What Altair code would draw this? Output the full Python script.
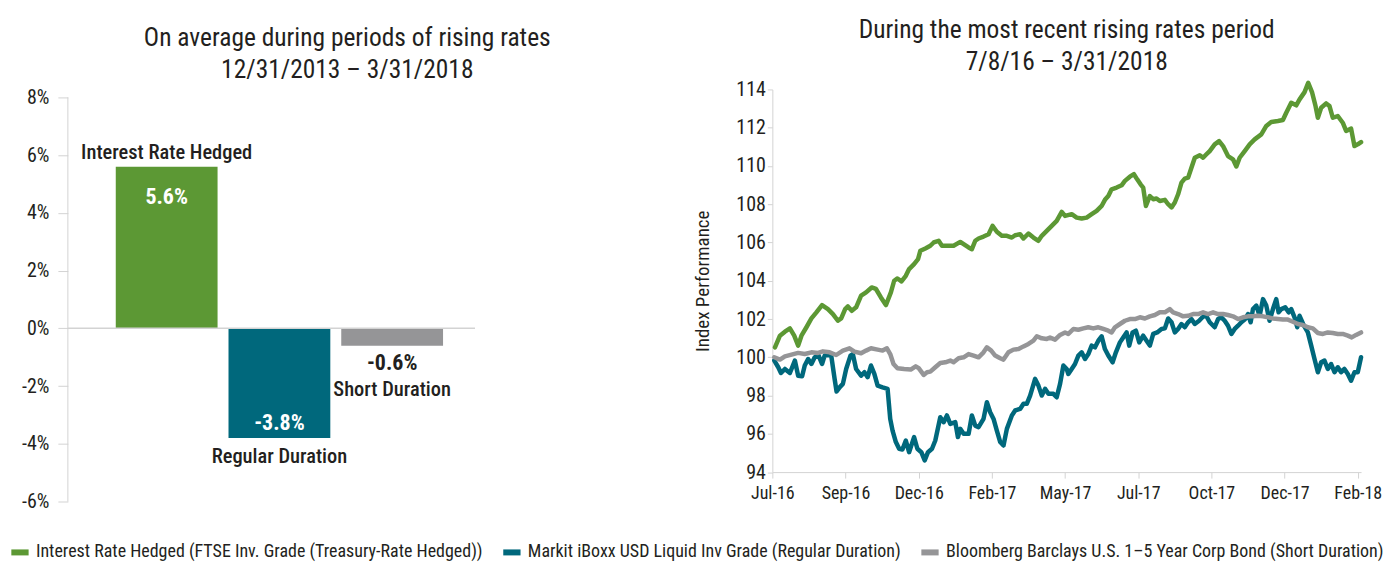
import json
import altair as alt
import pandas as pd

FONT = "'Roboto Condensed', 'Liberation Sans Narrow', 'DejaVu Sans Condensed', 'Arial Narrow', sans-serif"
TEXT = "#231f20"
AXIS_GRAY = "#d3d3d3"

# ---------------- left panel data ----------------
BAR_CATS = ["Interest Rate Hedged", "Regular Duration", "Short Duration"]
BAR_VALUES = [5.6, -3.8, -0.6]
BAR_LABELS = ["5.6%", "-3.8%", "-0.6%"]
PCT_TICKS = [-6, -4, -2, 0, 2, 4, 6, 8]
COLORS = ["#5c9834", "#00687c", "#959597"]

# ---------------- right panel data ----------------
SERIES = [
    "Interest Rate Hedged (FTSE Inv. Grade (Treasury-Rate Hedged))",
    "Markit iBoxx USD Liquid Inv Grade (Regular Duration)",
    "Bloomberg Barclays U.S. 1\u20135 Year Corp Bond (Short Duration)",
]
X_TICK_LABELS = ["Jul-16", "Sep-16", "Dec-16", "Feb-17", "May-17", "Jul-17", "Oct-17", "Dec-17", "Feb-18"]
INDEX_TICKS = [94, 96, 98, 100, 102, 104, 106, 108, 110, 112, 114]

HEDGED_T = [0.036, 0.104, 0.172, 0.240, 0.299, 0.353, 0.398, 0.466, 0.534, 0.602, 0.679, 0.760, 0.828, 0.896,
            0.941, 0.995, 1.032, 1.086, 1.145, 1.213, 1.281, 1.357, 1.416, 1.484, 1.552, 1.620, 1.665, 1.710,
            1.765, 1.824, 1.869, 1.937, 1.991, 2.023, 2.091, 2.159, 2.205, 2.273, 2.318, 2.386, 2.477, 2.568,
            2.614, 2.682, 2.727, 2.773, 2.818, 2.886, 2.955, 3.009, 3.068, 3.136, 3.205, 3.273, 3.318, 3.386,
            3.432, 3.500, 3.568, 3.636, 3.682, 3.750, 3.818, 3.886, 3.955, 4.000, 4.091, 4.159, 4.227, 4.295,
            4.364, 4.432, 4.500, 4.545, 4.591, 4.636, 4.705, 4.773, 4.818, 4.886, 4.941, 4.986, 5.032, 5.068,
            5.105, 5.159, 5.205, 5.250, 5.295, 5.364, 5.409, 5.455, 5.500, 5.545, 5.591, 5.636, 5.682, 5.727,
            5.773, 5.841, 5.886, 5.932, 5.977, 6.045, 6.105, 6.159, 6.227, 6.295, 6.341, 6.386, 6.455, 6.523,
            6.591, 6.682, 6.750, 6.818, 6.909, 6.977, 7.023, 7.091, 7.159, 7.205, 7.273, 7.323, 7.377, 7.423,
            7.455, 7.500, 7.568, 7.614, 7.659, 7.727, 7.795, 7.841, 7.909, 7.955, 8.000, 8.045]
HEDGED_V = [100.52, 101.13, 101.34, 101.51, 101.13, 100.61, 101.13, 101.57, 102.03, 102.35, 102.73, 102.52,
            102.26, 101.91, 102.03, 102.52, 102.66, 102.43, 102.61, 103.22, 103.39, 103.65, 103.57, 103.13,
            102.73, 103.39, 104.00, 104.12, 103.97, 104.26, 104.61, 104.87, 105.13, 105.57, 105.69, 105.83,
            106.00, 106.09, 105.83, 105.83, 105.83, 106.03, 105.91, 105.74, 105.65, 106.09, 106.21, 106.31,
            106.43, 106.87, 106.56, 106.35, 106.35, 106.26, 106.38, 106.43, 106.21, 106.47, 106.26, 106.09,
            106.35, 106.61, 106.87, 107.13, 107.60, 107.39, 107.48, 107.30, 107.25, 107.30, 107.48, 107.65,
            107.91, 108.23, 108.43, 108.78, 108.87, 108.99, 109.22, 109.44, 109.57, 109.30, 109.04, 108.87,
            107.91, 108.43, 108.26, 108.30, 108.17, 108.23, 108.00, 107.83, 108.09, 108.52, 109.13, 109.34,
            109.39, 109.91, 110.43, 110.56, 110.43, 110.61, 110.78, 111.13, 111.30, 111.04, 110.52, 110.35,
            109.97, 110.43, 110.78, 111.13, 111.39, 111.65, 112.09, 112.30, 112.35, 112.40, 112.78, 113.30,
            113.17, 113.48, 113.86, 114.35, 113.83, 113.13, 112.52, 113.04, 113.27, 113.13, 112.52, 112.61,
            112.26, 111.83, 111.95, 111.04, 111.13, 111.25]

REGULAR_T = [0.027, 0.081, 0.118, 0.172, 0.240, 0.308, 0.353, 0.407, 0.443, 0.489, 0.534, 0.579, 0.633, 0.679,
             0.715, 0.769, 0.805, 0.851, 0.878, 0.919, 0.964, 1.009, 1.068, 1.100, 1.145, 1.213, 1.258, 1.303,
             1.348, 1.394, 1.439, 1.507, 1.575, 1.611, 1.643, 1.688, 1.733, 1.778, 1.824, 1.869, 1.937, 1.982,
             2.036, 2.082, 2.127, 2.182, 2.227, 2.295, 2.341, 2.386, 2.432, 2.500, 2.536, 2.568, 2.614, 2.682,
             2.727, 2.773, 2.818, 2.886, 2.932, 2.977, 3.023, 3.068, 3.114, 3.159, 3.205, 3.273, 3.318, 3.386,
             3.432, 3.477, 3.523, 3.591, 3.636, 3.682, 3.727, 3.773, 3.841, 3.886, 3.932, 3.977, 4.023, 4.045,
             4.091, 4.136, 4.182, 4.227, 4.273, 4.318, 4.364, 4.409, 4.455, 4.500, 4.545, 4.591, 4.650, 4.695,
             4.750, 4.795, 4.841, 4.877, 4.923, 4.968, 5.014, 5.068, 5.114, 5.159, 5.205, 5.259, 5.318, 5.364,
             5.409, 5.455, 5.500, 5.545, 5.591, 5.636, 5.682, 5.727, 5.773, 5.832, 5.877, 5.923, 5.977, 6.045,
             6.091, 6.136, 6.182, 6.227, 6.273, 6.318, 6.364, 6.409, 6.455, 6.500, 6.536, 6.568, 6.614, 6.659,
             6.705, 6.750, 6.795, 6.841, 6.886, 6.918, 6.955, 7.009, 7.055, 7.091, 7.136, 7.173, 7.205, 7.264,
             7.318, 7.364, 7.409, 7.455, 7.500, 7.545, 7.591, 7.636, 7.682, 7.727, 7.773, 7.818, 7.864, 7.909,
             7.955, 8.000, 8.045]
REGULAR_V = [99.83, 99.48, 99.18, 99.39, 99.18, 99.83, 99.04, 99.01, 99.57, 99.91, 99.65, 100.00, 100.09, 99.65,
             100.09, 100.12, 100.09, 98.87, 98.21, 98.43, 98.61, 99.39, 100.09, 100.17, 99.39, 99.04, 99.22, 98.96,
             99.57, 99.13, 98.52, 98.43, 98.35, 96.78, 96.17, 95.57, 95.22, 95.18, 95.65, 95.04, 95.83, 95.22,
             95.04, 94.61, 95.04, 95.22, 95.65, 96.87, 96.61, 96.96, 96.52, 96.61, 95.83, 96.26, 96.00, 96.00,
             96.96, 96.43, 96.35, 96.78, 97.65, 97.13, 96.78, 96.17, 95.57, 95.39, 96.26, 96.96, 97.22, 97.30,
             97.57, 97.57, 98.00, 98.87, 98.52, 98.00, 98.35, 98.09, 98.09, 97.91, 98.61, 99.57, 99.39, 99.13,
             99.39, 99.65, 100.09, 100.26, 99.91, 100.17, 100.61, 100.52, 100.87, 101.10, 100.43, 100.09, 99.74,
             100.26, 100.78, 101.04, 101.30, 100.61, 101.30, 101.39, 100.78, 101.13, 100.87, 100.61, 101.22,
             101.30, 101.48, 101.51, 102.03, 101.83, 101.30, 101.48, 101.74, 101.57, 101.83, 102.00, 101.74,
             101.91, 102.09, 102.21, 101.83, 101.57, 102.00, 102.09, 101.91, 101.65, 101.22, 101.48, 101.65,
             101.83, 101.97, 102.26, 101.83, 102.52, 102.70, 102.17, 103.04, 102.70, 101.91, 102.52, 103.04,
             102.35, 102.52, 102.61, 102.35, 102.52, 102.09, 101.57, 102.17, 101.65, 101.30, 100.61, 99.91,
             99.22, 99.74, 99.83, 99.39, 99.65, 99.22, 99.48, 99.22, 99.39, 99.13, 98.78, 99.22, 99.22, 100.00]

SHORT_T = [0.027, 0.104, 0.172, 0.262, 0.353, 0.443, 0.534, 0.624, 0.692, 0.783, 0.873, 0.964, 1.054, 1.122,
           1.213, 1.281, 1.348, 1.439, 1.507, 1.566, 1.611, 1.656, 1.710, 1.801, 1.891, 1.959, 2.000, 2.068,
           2.114, 2.159, 2.227, 2.295, 2.364, 2.432, 2.477, 2.545, 2.614, 2.682, 2.750, 2.818, 2.886, 2.932,
           2.991, 3.045, 3.114, 3.159, 3.227, 3.295, 3.364, 3.432, 3.500, 3.568, 3.614, 3.682, 3.750, 3.795,
           3.864, 3.932, 4.000, 4.045, 4.114, 4.182, 4.250, 4.318, 4.386, 4.455, 4.523, 4.591, 4.636, 4.682,
           4.750, 4.818, 4.886, 4.955, 5.023, 5.091, 5.159, 5.227, 5.295, 5.364, 5.432, 5.477, 5.545, 5.614,
           5.682, 5.750, 5.818, 5.886, 5.955, 6.023, 6.091, 6.159, 6.227, 6.295, 6.364, 6.432, 6.500, 6.568,
           6.636, 6.705, 6.773, 6.841, 6.909, 6.977, 7.045, 7.114, 7.182, 7.250, 7.318, 7.386, 7.455, 7.523,
           7.591, 7.659, 7.727, 7.795, 7.864, 7.918, 7.977, 8.045]
SHORT_V = [100.00, 99.88, 100.05, 100.14, 100.23, 100.17, 100.26, 100.23, 100.31, 100.26, 100.12, 100.35, 100.47,
           100.30, 100.21, 100.35, 100.47, 100.40, 100.35, 100.47, 100.17, 99.65, 99.43, 99.39, 99.36, 99.53,
           99.43, 99.08, 99.22, 99.25, 99.48, 99.70, 99.74, 99.83, 99.74, 99.95, 100.00, 100.17, 100.09, 100.00,
           100.26, 100.52, 100.35, 100.09, 99.95, 99.88, 100.26, 100.40, 100.43, 100.57, 100.70, 100.87, 101.10,
           100.99, 100.96, 101.03, 100.92, 101.17, 101.30, 101.22, 101.48, 101.44, 101.51, 101.57, 101.51,
           101.57, 101.48, 101.39, 101.30, 101.57, 101.74, 101.91, 102.00, 102.00, 102.09, 102.03, 102.14,
           102.21, 102.35, 102.35, 102.52, 102.35, 102.26, 102.14, 102.17, 102.26, 102.26, 102.35, 102.26,
           102.35, 102.26, 102.26, 102.21, 102.14, 102.00, 102.09, 102.14, 102.14, 102.17, 102.14, 102.09,
           102.03, 102.00, 101.97, 101.97, 101.86, 101.74, 101.69, 101.57, 101.51, 101.27, 101.22, 101.30,
           101.27, 101.22, 101.22, 101.13, 101.04, 101.17, 101.30]

# ---------------- left panel ----------------
LW, LH = 408, 413
bars_df = pd.DataFrame({"cat": BAR_CATS, "value": BAR_VALUES, "label": BAR_LABELS})
pct_scale = alt.Scale(domain=[-6, 8.277], nice=False)
x_band = alt.X("cat:N", sort=BAR_CATS, axis=None,
               scale=alt.Scale(paddingInner=0.097, paddingOuter=0.354, align=0.6))

pct_axis = alt.Axis(values=PCT_TICKS, labelExpr="datum.value + '%'", domain=False, grid=False,
                    tickSize=10, tickColor=AXIS_GRAY, labelPadding=9, labelFontSize=20,
                    labelColor=TEXT, title=None)

axis_line = alt.Chart(pd.DataFrame({"lo": [min(PCT_TICKS)], "hi": [max(PCT_TICKS)]})).mark_rule(
    color=AXIS_GRAY, strokeWidth=1).encode(
    x=alt.value(0), y=alt.Y("lo:Q", scale=pct_scale, axis=pct_axis), y2="hi:Q")

zero_line = alt.Chart(pd.DataFrame({"z": [0]})).mark_rule(color=AXIS_GRAY, strokeWidth=1.5).encode(
    y=alt.Y("z:Q", scale=pct_scale), x=alt.value(0), x2=alt.value(LW))

bars = alt.Chart(bars_df).mark_bar().encode(
    x=x_band,
    y=alt.Y("value:Q", scale=pct_scale),
    color=alt.Color("cat:N", scale=alt.Scale(domain=BAR_CATS, range=COLORS), legend=None),
)


def bar_text(idx, field, dy, color, weight, size):
    return alt.Chart(bars_df).transform_filter(
        alt.datum.cat == BAR_CATS[idx]).mark_text(
        dy=dy, baseline="middle", align="center", color=color, fontWeight=weight, fontSize=size).encode(
        x=x_band, y=alt.Y("value:Q", scale=pct_scale), text=f"{field}:N")


TITLE_STYLE = dict(fontSize=25.5, fontWeight="normal", color=TEXT, lineHeight=32, offset=4,
                   anchor="middle", frame="group")

left = alt.layer(
    axis_line, bars, zero_line,
    bar_text(0, "cat", -14, TEXT, 500, 20.5),
    bar_text(0, "label", 30, "white", "bold", 22),
    bar_text(1, "label", -15, "white", "bold", 22),
    bar_text(1, "cat", 19, TEXT, 500, 20.5),
    bar_text(2, "label", 17, TEXT, "bold", 22),
    bar_text(2, "cat", 44, TEXT, 500, 20.5),
).properties(
    width=LW, height=LH,
    title=alt.TitleParams(["On average during periods of rising rates", "12/31/2013 \u2013 3/31/2018"],
                          dx=76, **TITLE_STYLE),
)

# ---------------- right panel ----------------
RW, RH = 590, 383.5
rows = []
for name, ts, vs in zip(SERIES, [HEDGED_T, REGULAR_T, SHORT_T], [HEDGED_V, REGULAR_V, SHORT_V]):
    for t, v in zip(ts, vs):
        rows.append({"series": name, "t": t, "v": v})
line_df = pd.DataFrame(rows)

x_label_expr = json.dumps(X_TICK_LABELS) + "[datum.value]"

right = alt.Chart(line_df).mark_line(strokeWidth=4.5, strokeJoin="round", strokeCap="round").encode(
    x=alt.X("t:Q", scale=alt.Scale(domain=[0, 8.045], nice=False, zero=False),
            axis=alt.Axis(values=list(range(len(X_TICK_LABELS))), labelExpr=x_label_expr, title=None,
                          grid=False, domainColor=AXIS_GRAY, tickColor=AXIS_GRAY, tickSize=6,
                          labelFlush=False, labelOverlap=False,
                          labelFontSize=18, labelPadding=6, labelColor=TEXT)),
    y=alt.Y("v:Q", scale=alt.Scale(domain=[94, 114], nice=False, zero=False),
            axis=alt.Axis(values=INDEX_TICKS, title="Index Performance", titleFontSize=19,
                          titleFontWeight="normal", titleColor=TEXT, titleX=-70, titleY=RH / 2,
                          titleAngle=-90, titleAlign="center", titleBaseline="middle",
                          grid=False, domainColor=AXIS_GRAY, tickColor=AXIS_GRAY, tickSize=5,
                          labelFlush=False, labelOverlap=False,
                          labelPadding=2, labelFontSize=20, labelColor=TEXT)),
    color=alt.Color("series:N", sort=SERIES, scale=alt.Scale(domain=SERIES, range=COLORS),
                    legend=alt.Legend(title=None, orient="none", legendX=-766, legendY=452,
                                      direction="horizontal", columns=3, symbolType="stroke",
                                      symbolStrokeWidth=6, symbolSize=300, labelFontSize=18,
                                      labelColor=TEXT, labelLimit=700, columnPadding=8,
                                      labelOffset=4)),
).properties(
    width=RW, height=RH,
    title=alt.TitleParams(["During the most recent rising rates period", "7/8/16 \u2013 3/31/2018"],
                          **TITLE_STYLE),
)

chart = alt.hconcat(left, right, spacing=298, bounds="flush").resolve_scale(
    color="independent").properties(
    padding={"left": 0, "top": 9, "right": 0, "bottom": 0}
).configure(font=FONT).configure_view(stroke=None)

chart.save("out.html", embed_options={"renderer": "svg", "actions": False})
